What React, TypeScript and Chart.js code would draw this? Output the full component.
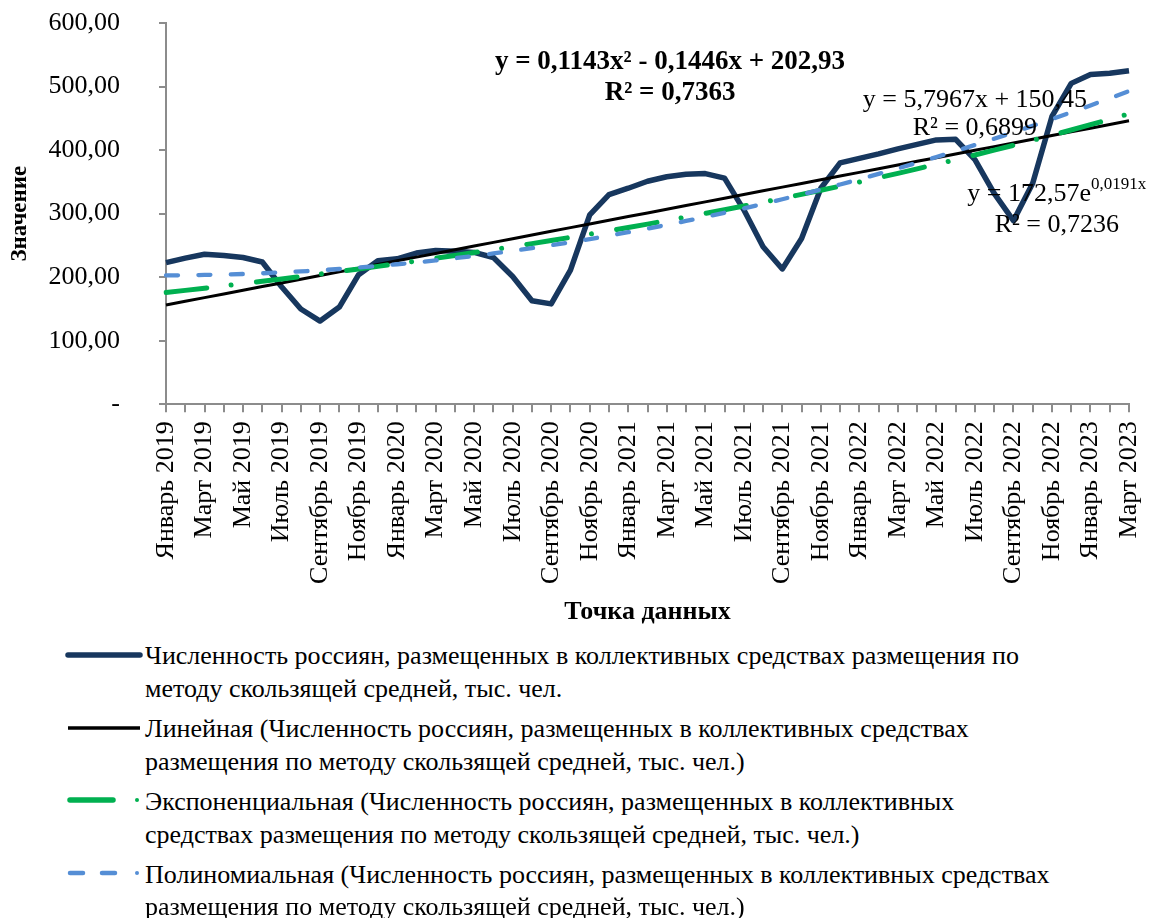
import React, { useEffect, useRef } from "react";
import { Chart, registerables } from "chart.js";

Chart.register(...registerables);

const MONTHS = ["Январь", "Февраль", "Март", "Апрель", "Май", "Июнь", "Июль", "Август", "Сентябрь", "Октябрь", "Ноябрь", "Декабрь"];
const YEARS = [2019, 2020, 2021, 2022, 2023];
const CATEGORIES: string[] = [];
YEARS.forEach((yr) => MONTHS.forEach((m, i) => { if (yr < 2023 || i < 3) CATEGORIES.push(m + " " + yr); }));

const GUESTS = [223, 230, 236, 234, 231, 224, 185, 150, 131, 153, 204, 226, 229, 238, 242, 241, 239, 231, 201, 163, 158, 211, 298, 330, 340, 351, 358, 362, 363, 356, 306, 248, 213, 261, 340, 380, 387, 394, 402, 409, 416, 417, 385, 332, 289, 348, 453, 505, 519, 521, 525];

// trendline equations as printed on the chart
const LINEAR_COEF = [5.7967, 150.45];
const EXP_COEF = [172.57, 0.0191];
const POLY_COEF = [0.1143, -0.1446, 202.93];

const Y_MIN = 0;
const Y_MAX = 600;
const Y_STEP = 100;

const LINEAR_TREND = GUESTS.map((_, i) => LINEAR_COEF[0] * (i + 1) + LINEAR_COEF[1]);
const EXP_TREND = GUESTS.map((_, i) => EXP_COEF[0] * Math.exp(EXP_COEF[1] * (i + 1)));
const POLY_TREND = GUESTS.map((_, i) => POLY_COEF[0] * (i + 1) * (i + 1) + POLY_COEF[1] * (i + 1) + POLY_COEF[2]);

const SERIES_NAME = "Численность россиян, размещенных в коллективных средствах размещения по методу скользящей средней, тыс. чел.";

const LEGEND_LINES = [
  ["Численность россиян, размещенных в коллективных средствах размещения по", "методу скользящей средней, тыс. чел."],
  ["Линейная (Численность россиян, размещенных в коллективных средствах", "размещения по методу скользящей средней, тыс. чел.)"],
  ["Экспоненциальная (Численность россиян, размещенных в коллективных", "средствах размещения по методу скользящей средней, тыс. чел.)"],
  ["Полиномиальная (Численность россиян, размещенных в коллективных средствах", "размещения по методу скользящей средней, тыс. чел.)"],
];

const NAVY = "#17375E";
const GREEN = "#00B050";
const BLUE = "#558ED5";
const AXIS_GRAY = "#8C8C8C";
const FONT = "'Liberation Serif', 'Times New Roman', serif";

// label anchors in data coordinates: [category index, value line1, value line2]
const POLY_LABEL_AT = [26.17, 539, 490];
const LIN_LABEL_AT = [42.0, 479, 435];
const EXP_LABEL_AT = [46.25, 330, 282];

const fmt = (v: number) => (v === 0 ? "-" : v.toFixed(2).replace(".", ","));

const trendLabels = {
  id: "trendLabels",
  afterDatasetsDraw(chart: any) {
    const { ctx } = chart;
    const xs = chart.scales.x;
    const ys = chart.scales.y;
    ctx.save();
    ctx.fillStyle = "#000";
    ctx.textBaseline = "middle";
    ctx.textAlign = "center";
    ctx.font = `bold 27px ${FONT}`;
    ctx.fillText("y = 0,1143x² - 0,1446x + 202,93", xs.getPixelForValue(POLY_LABEL_AT[0]), ys.getPixelForValue(POLY_LABEL_AT[1]));
    ctx.fillText("R² = 0,7363", xs.getPixelForValue(POLY_LABEL_AT[0]), ys.getPixelForValue(POLY_LABEL_AT[2]));

    ctx.font = `26px ${FONT}`;
    ctx.fillText("y = 5,7967x + 150,45", xs.getPixelForValue(LIN_LABEL_AT[0]), ys.getPixelForValue(LIN_LABEL_AT[1]));
    ctx.fillText("R² = 0,6899", xs.getPixelForValue(LIN_LABEL_AT[0]), ys.getPixelForValue(LIN_LABEL_AT[2]));

    // exponential with superscript exponent
    const ex = xs.getPixelForValue(EXP_LABEL_AT[0]);
    const ey = ys.getPixelForValue(EXP_LABEL_AT[1]);
    const base = "y = 172,57e";
    const sup = "0,0191x";
    ctx.font = `26px ${FONT}`;
    const wb = ctx.measureText(base).width;
    ctx.font = `17px ${FONT}`;
    const ws = ctx.measureText(sup).width;
    const left = ex - (wb + ws) / 2;
    ctx.textAlign = "left";
    ctx.font = `26px ${FONT}`;
    ctx.fillText(base, left, ey);
    ctx.font = `17px ${FONT}`;
    ctx.fillText(sup, left + wb, ey - 10);
    ctx.textAlign = "center";
    ctx.font = `26px ${FONT}`;
    ctx.fillText("R² = 0,7236", ex, ys.getPixelForValue(EXP_LABEL_AT[2]));
    ctx.restore();
  },
};

function LegendSample({ kind }: { kind: number }) {
  return (
    <svg width="90" height="12" style={{ position: "absolute", left: 60, top: -8 }}>
      {kind === 0 && <line x1="8" y1="6" x2="80" y2="6" stroke={NAVY} strokeWidth="5.5" strokeLinecap="round" />}
      {kind === 1 && <line x1="8" y1="6" x2="80" y2="6" stroke="#000" strokeWidth="3.5" />}
      {kind === 2 && (
        <g>
          <line x1="10" y1="6" x2="53" y2="6" stroke={GREEN} strokeWidth="5.5" strokeLinecap="round" />
          <circle cx="77" cy="6" r="2" fill={GREEN} />
        </g>
      )}
      {kind === 3 && (
        <g>
          <line x1="10" y1="6" x2="23" y2="6" stroke={BLUE} strokeWidth="4.5" strokeLinecap="round" />
          <line x1="42" y1="6" x2="55" y2="6" stroke={BLUE} strokeWidth="4.5" strokeLinecap="round" />
          <circle cx="77" cy="6" r="2" fill={BLUE} />
        </g>
      )}
    </svg>
  );
}

export default function App() {
  const ref = useRef<HTMLCanvasElement | null>(null);

  useEffect(() => {
    if (!ref.current) return;
    const chart = new Chart(ref.current, {
      type: "line",
      data: {
        labels: CATEGORIES,
        datasets: [
          { label: SERIES_NAME, data: GUESTS, borderColor: NAVY, borderWidth: 5.5, pointRadius: 0, tension: 0, order: 4, borderJoinStyle: "round" },
          { label: "Линейная", data: LINEAR_TREND, borderColor: "#000", borderWidth: 3, pointRadius: 0, order: 3 },
          { label: "Экспоненциальная", data: EXP_TREND, borderColor: GREEN, borderWidth: 5, pointRadius: 0, order: 2, borderDash: [41, 24.5, 0.01, 25.5], borderCapStyle: "round" },
          { label: "Полиномиальная", data: POLY_TREND, borderColor: BLUE, borderWidth: 4.3, pointRadius: 0, order: 1, borderDash: [12, 20.4], borderCapStyle: "round" },
        ],
      },
      options: {
        animation: false,
        responsive: false,
        devicePixelRatio: 1,
        layout: { padding: { top: 23, right: 33, bottom: 0, left: 0 }, autoPadding: false },
        plugins: { legend: { display: false }, tooltip: { enabled: false } },
        scales: {
          x: {
            type: "category",
            offset: false,
            grid: { display: true, drawOnChartArea: false, drawTicks: true, tickLength: 8, color: AXIS_GRAY, lineWidth: 2 },
            border: { display: true, color: AXIS_GRAY, width: 2 },
            ticks: {
              autoSkip: false,
              minRotation: 90,
              maxRotation: 90,
              padding: 9,
              color: "#000",
              font: { family: FONT, size: 26 },
              callback: (_v: any, i: number) => (i % 2 === 0 ? CATEGORIES[i] : ""),
            },
            title: { display: true, text: "Точка данных", color: "#000", font: { family: FONT, size: 26, weight: "bold" }, padding: { top: 0, bottom: 2.4 } },
            afterFit: (s: any) => { s.height = 225.7; s.paddingLeft = 0; s.paddingRight = 0; },
          },
          y: {
            min: Y_MIN,
            max: Y_MAX,
            grid: { display: true, drawOnChartArea: false, drawTicks: true, tickLength: 7, color: AXIS_GRAY, lineWidth: 2 },
            border: { display: true, color: AXIS_GRAY, width: 2 },
            ticks: { stepSize: Y_STEP, padding: 39, color: "#000", font: { family: FONT, size: 26 }, callback: (v: any) => fmt(Number(v)) },
            title: { display: true, text: "Значение", color: "#000", font: { family: FONT, size: 23, weight: "bold" }, padding: { top: 6, bottom: 0 } },
            afterFit: (s: any) => { s.width = 166; s.paddingTop = 0; s.paddingBottom = 0; },
          },
        },
      },
      plugins: [trendLabels],
    } as any);
    return () => chart.destroy();
  }, []);

  return (
    <div style={{ position: "fixed", left: 0, top: 0, width: 1162, height: 918, background: "#fff", fontFamily: FONT }}>
      <canvas ref={ref} width={1162} height={630} style={{ position: "absolute", left: 0, top: 0, width: 1162, height: 630 }} />
      {LEGEND_LINES.map((lines, i) => (
        <div key={i} style={{ position: "absolute", left: 0, top: 656.7 + i * 72.8, width: 1162 }}>
          <LegendSample kind={i} />
          {lines.map((t, j) => (
            <div key={j} style={{ position: "absolute", left: 145, top: -16.25 + j * 32.5, height: 32.5, lineHeight: "32.5px", fontSize: 26, whiteSpace: "nowrap", color: "#000" }}>
              {t}
            </div>
          ))}
        </div>
      ))}
    </div>
  );
}
